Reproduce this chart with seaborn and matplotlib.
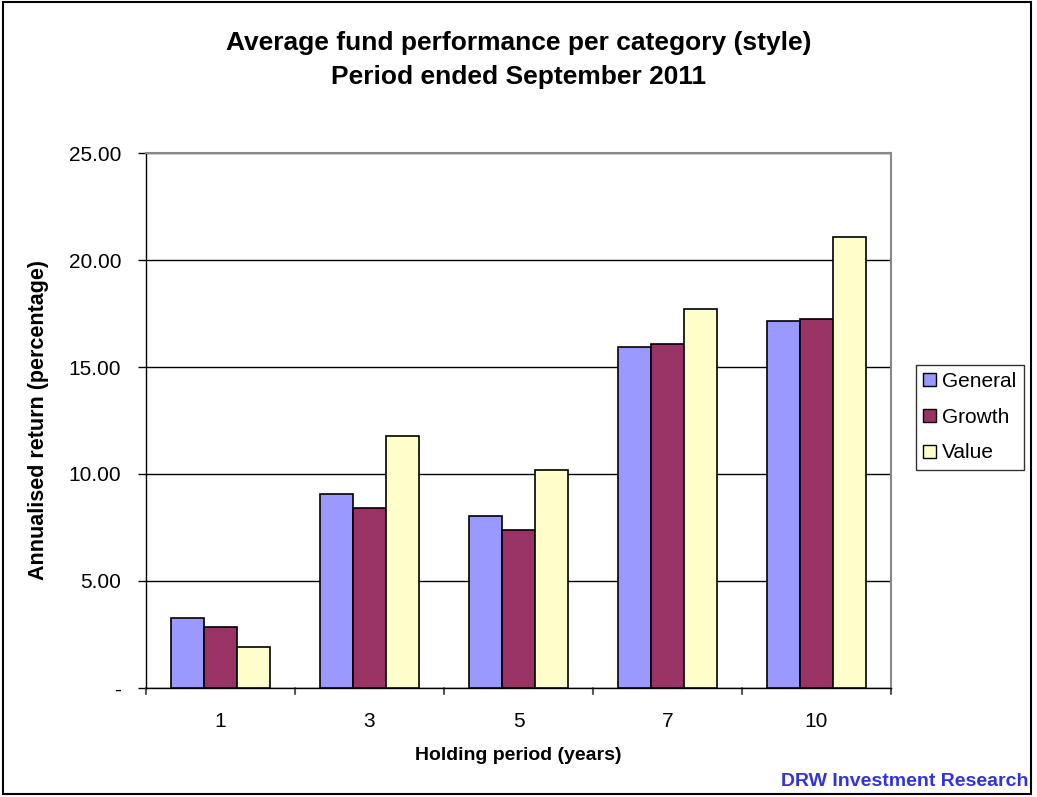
import pandas as pd
import matplotlib.pyplot as plt
import seaborn as sns
from matplotlib.patches import Rectangle

# Data
periods = ["1", "3", "5", "7", "10"]
general = [3.29, 9.05, 8.04, 15.92, 17.15]
growth = [2.87, 8.41, 7.40, 16.06, 17.26]
value = [1.93, 11.79, 10.20, 17.71, 21.07]
styles = ["General", "Growth", "Value"]
colors = ["#9999FF", "#993366", "#FFFFCC"]

df = pd.DataFrame({"period": periods, "General": general, "Growth": growth, "Value": value})
df = df.melt(id_vars="period", var_name="style", value_name="ret")

sns.set_theme(style="white")
plt.rcParams["font.family"] = ["Liberation Sans", "DejaVu Sans"]
plt.rcParams["text.color"] = "black"
plt.rcParams["axes.labelcolor"] = "black"
plt.rcParams["xtick.color"] = "black"
plt.rcParams["ytick.color"] = "black"

fig = plt.figure(figsize=(10.37, 7.97), dpi=100)
ax = fig.add_axes([0.1408, 0.1368, 0.7184, 0.6712])

sns.barplot(data=df, x="period", y="ret", hue="style", hue_order=styles,
            order=periods, palette=colors, width=0.66, edgecolor="black",
            linewidth=1.2, saturation=1, ax=ax, zorder=3)

ax.set_ylim(0, 25)
ax.set_xlim(-0.5, 4.5)
yt = [0, 5, 10, 15, 20, 25]
ax.set_yticks(yt)
ax.set_yticklabels(["-" if v == 0 else f"{v:.2f}" for v in yt], fontsize=15)
ax.tick_params(axis="x", labelsize=15, length=0, pad=17)
ax.tick_params(axis="y", length=6, width=1, direction="out", left=True, pad=12)
ax.grid(axis="y", color="black", linewidth=1, zorder=0)
ax.set_axisbelow(True)

# category separators on x axis
for xx in [-0.5, 0.5, 1.5, 2.5, 3.5, 4.5]:
    ax.plot([xx, xx], [0, -0.012], transform=ax.get_xaxis_transform(), color="#555555",
            linewidth=1.5, clip_on=False)

for side in ["top", "right"]:
    ax.spines[side].set_color("#888888")
    ax.spines[side].set_linewidth(1.5)
ax.spines["left"].set_color("black")
ax.spines["bottom"].set_color("black")
ax.spines["left"].set_linewidth(1)
ax.spines["bottom"].set_linewidth(1)

ax.set_xlabel("Holding period (years)", fontsize=14, fontweight="bold", labelpad=12)
ax.set_ylabel("Annualised return (percentage)", fontsize=15.5, fontweight="bold", labelpad=14)

fig.text(0.5, 0.925, "Average fund performance per category (style)\nPeriod ended September 2011",
         ha="center", va="center", fontsize=19, fontweight="bold", linespacing=1.5)

leg = ax.legend(loc="upper left", bbox_to_anchor=(1.0336, 0.604), frameon=True,
                fontsize=15, handlelength=0.6, handleheight=0.6, handletextpad=0.3,
                borderpad=0.35, labelspacing=0.8, fancybox=False, edgecolor="black",
                borderaxespad=0)
leg.get_frame().set_linewidth(1)
for h in leg.legend_handles:
    h.set_edgecolor("black")
    h.set_linewidth(1)

# outer chart border
fig.patches.append(Rectangle((0.003, 0.004), 0.991, 0.993, transform=fig.transFigure,
                             fill=False, edgecolor="black", linewidth=1.5))

fig.text(0.992, 0.02, "DRW Investment Research", ha="right", va="center",
         fontsize=14, fontweight="bold", color="#3333DD")

fig.savefig("out.png", dpi=100)
